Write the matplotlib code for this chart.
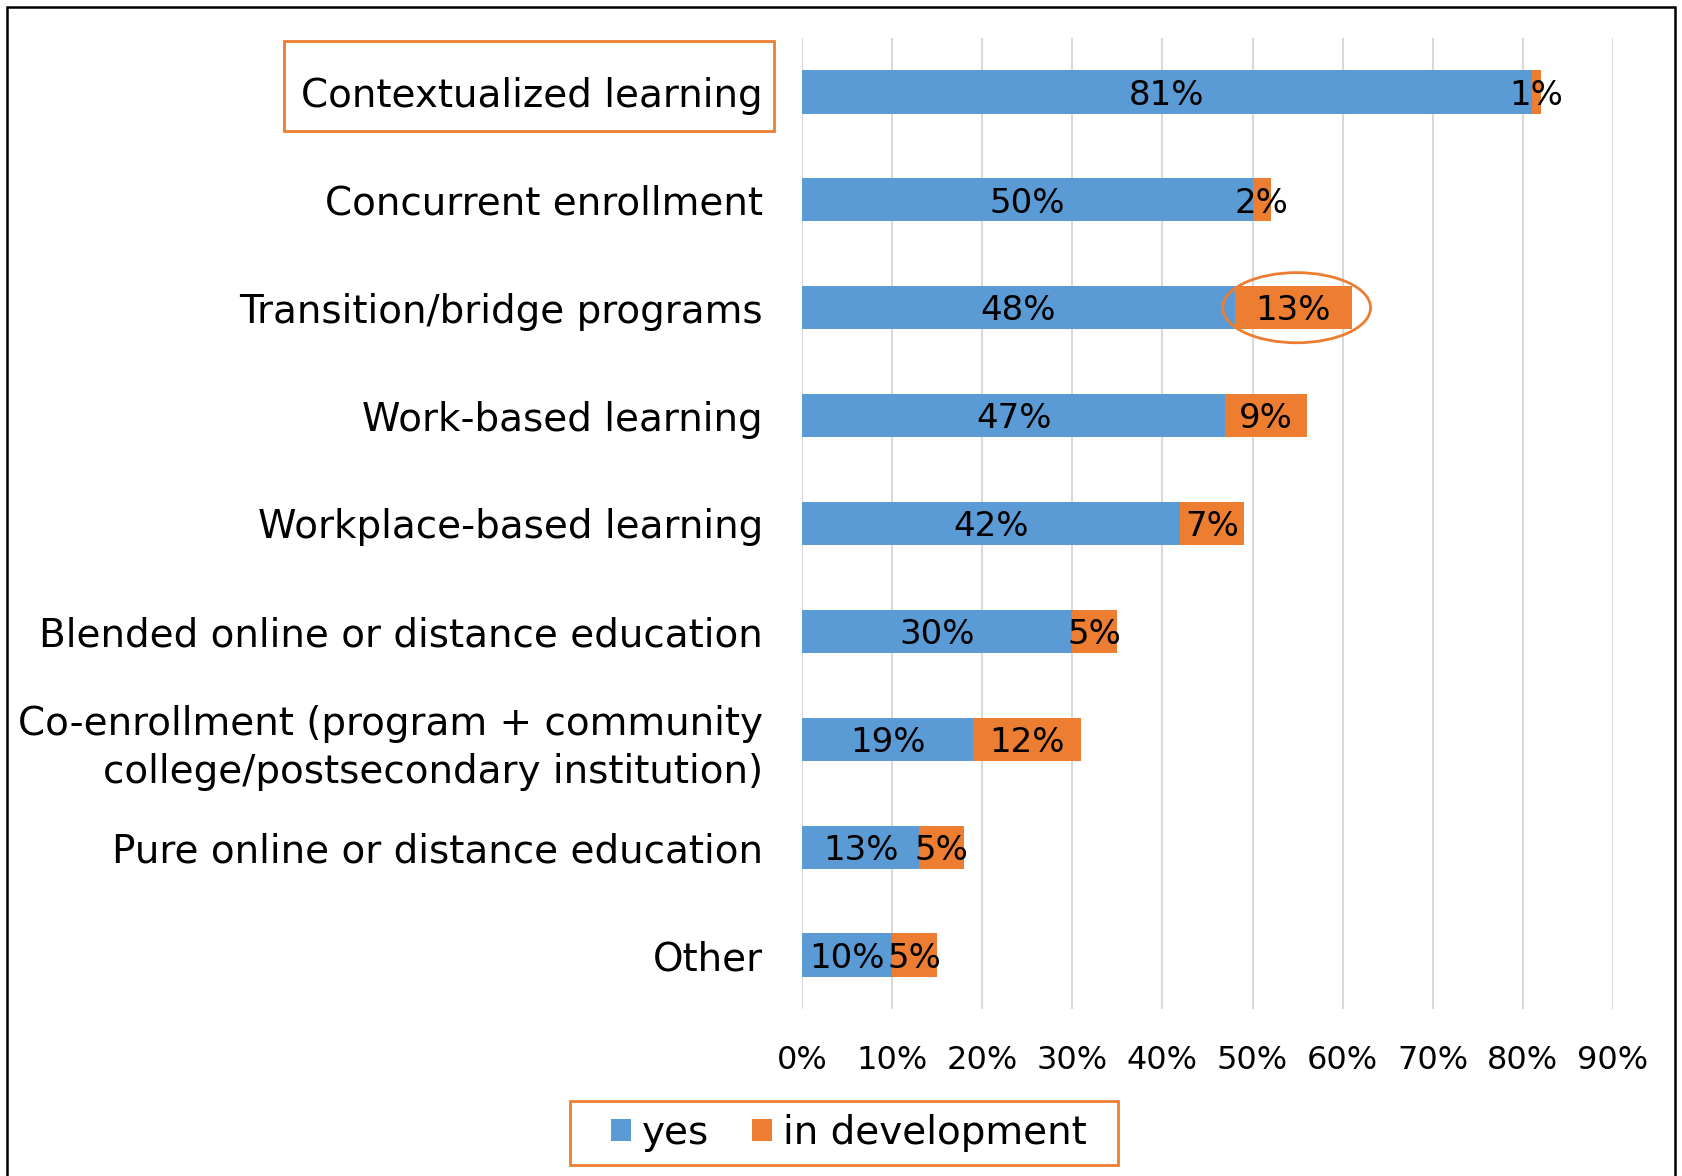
import matplotlib
matplotlib.use("Agg")
import matplotlib.pyplot as plt
from matplotlib.patches import Rectangle, Ellipse

plt.rcParams['font.family'] = ['DejaVu Sans']

categories = ["Contextualized learning", "Concurrent enrollment", "Transition/bridge programs",
              "Work-based learning", "Workplace-based learning",
              "Blended online or distance education",
              "Co-enrollment (program + community\ncollege/postsecondary institution)",
              "Pure online or distance education", "Other"]
yes = [81, 50, 48, 47, 42, 30, 19, 13, 10]
in_dev = [1, 2, 13, 9, 7, 5, 12, 5, 5]
xticks = [0, 10, 20, 30, 40, 50, 60, 70, 80, 90]

BLUE = "#5B9BD5"
ORANGE = "#ED7D31"

fig = plt.figure(figsize=(16.83, 11.76), dpi=100)
ax = fig.add_axes([0.4765, 0.142, 0.4819, 0.8257])

ypos = list(range(len(categories)))
b1 = ax.barh(ypos, yes, height=0.4, color=BLUE, label="yes", zorder=3)
b2 = ax.barh(ypos, in_dev, left=yes, height=0.4, color=ORANGE, label="in development", zorder=3)

for i in ypos:
    ax.text(yes[i] / 2, i + 0.03, f"{yes[i]}%", ha="center", va="center", fontsize=24.5, zorder=4)
    ax.text(yes[i] + in_dev[i] / 2, i + 0.03, f"{in_dev[i]}%", ha="center", va="center",
            fontsize=24.5, zorder=4)

ax.set_xlim(0, 90)
ax.set_ylim(len(categories) - 0.5, -0.5)
ax.set_xticks(xticks)
ax.set_xticklabels([f"{t}%" for t in xticks], fontsize=23)
ax.set_yticks(ypos)
ax.set_yticklabels(categories, fontsize=28, linespacing=1.32)
ax.tick_params(axis="both", length=0)
ax.tick_params(axis="y", pad=28)
ax.tick_params(axis="x", pad=26)
ax.grid(axis="x", color="#D9D9D9", linewidth=1.5, zorder=0)
for s in ax.spines.values():
    s.set_visible(False)

# highlight ellipse around the 13% segment
ell = Ellipse((yes[2] + in_dev[2] / 2 + 0.4, 2), 16.4, 0.65, fill=False,
              edgecolor=ORANGE, linewidth=2, clip_on=False, zorder=5)
ax.add_patch(ell)

# box around the first category label
fig.patches.append(Rectangle((284 / 1683, 1 - 131 / 1176), 490 / 1683, 90 / 1176,
                             transform=fig.transFigure, fill=False, edgecolor=ORANGE, linewidth=2))
# box around the legend
fig.patches.append(Rectangle((570 / 1683, 1 - 1165 / 1176), 548 / 1683, 64 / 1176,
                             transform=fig.transFigure, fill=False, edgecolor=ORANGE, linewidth=2))
# outer frame
fig.patches.append(Rectangle((7 / 1683, -0.05), 1668 / 1683, 1.044,
                             transform=fig.transFigure, fill=False, edgecolor="black", linewidth=1.8))

leg = fig.legend(handles=[b1, b2], loc="center", bbox_to_anchor=(0.5045, 0.0366), ncol=2,
                 fontsize=28, frameon=False, handlelength=0.5, handleheight=0.5,
                 handletextpad=0.3, columnspacing=1.1, borderpad=0.3)

fig.savefig("out.png", dpi=100)
